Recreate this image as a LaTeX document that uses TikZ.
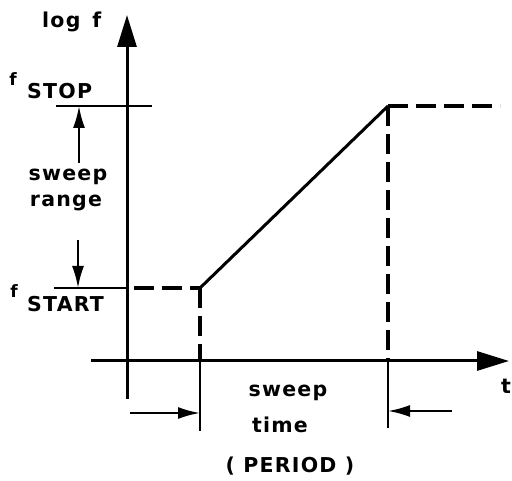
\documentclass[tikz,border=0pt]{standalone}
\usepackage{fontspec}
\setmainfont{DejaVu Sans}[LetterSpace=6]
\usetikzlibrary{arrows.meta}
\begin{document}
\begin{tikzpicture}[x=1pt,y=-1pt,
  axis/.style={line width=3pt,-{Triangle[length=32pt,width=19pt]}},
  thinline/.style={line width=2.2pt},
  solidline/.style={line width=3pt},
  dashline/.style={line width=3.4pt,dash pattern=on 20pt off 8pt},
  dimarrow/.style={line width=2.2pt,-{Latex[length=22pt,width=12pt]}},
  lbl/.style={font=\fontsize{20.5}{24}\selectfont\bfseries, inner sep=0pt},
  sub/.style={font=\fontsize{17}{19}\selectfont\bfseries, inner sep=0pt}]
\useasboundingbox (0,0) rectangle (512,481);
% points
\coordinate (ybot) at (127,399);
\coordinate (ytop) at (127,15);
\coordinate (xl) at (91,361);
\coordinate (xr) at (509,361);
\coordinate (stopL) at (56,106);
\coordinate (stopR) at (152,106);
\coordinate (startL) at (54,288);
\coordinate (startAx) at (127,288);
\coordinate (startD) at (134,288);
\coordinate (A) at (200,288);
\coordinate (B) at (388,106);
\coordinate (Bend) at (500,106);
\coordinate (Ax) at (200,361);
\coordinate (Abot) at (200,431);
\coordinate (Bx) at (388,361);
\coordinate (Bbot) at (388,428);
\coordinate (ra1) at (130,413);
\coordinate (ra2) at (200,413);
\coordinate (la1) at (452,411);
\coordinate (la2) at (388,411);
\coordinate (up1) at (79,163);
\coordinate (up2) at (79,106);
\coordinate (dn1) at (78,240);
\coordinate (dn2) at (78,288);
% axes
\draw[axis] (ybot) -- (ytop);
\draw[axis] (xl) -- (xr);
% level lines
\draw[thinline] (stopL) -- (stopR);
\draw[thinline] (startL) -- (startAx);
\draw[dashline] (startD) -- (A);
\draw[solidline] (A) -- (B);
\draw[dashline] (B) -- (Bend);
\draw[dashline] (A) -- (Ax);
\draw[dashline] (B) -- (Bx);
\draw[thinline] (Ax) -- (Abot);
\draw[thinline] (Bx) -- (Bbot);
% dimension arrows
\draw[dimarrow] (up1) -- (up2);
\draw[dimarrow] (dn1) -- (dn2);
\draw[dimarrow] (ra1) -- (ra2);
\draw[dimarrow] (la1) -- (la2);
% labels
\node[lbl, anchor=base west] (logf) at (42,28) {log\hspace{12pt}f};
\node[sub, anchor=center] (f1) at (13,79) {f};
\node[lbl, anchor=base west] (stop) at (27,99) {STOP};
\node[lbl, anchor=base] (sw1) at (68,181) {sweep};
\node[lbl, anchor=base] (rg) at (66,207) {range};
\node[sub, anchor=center] (f2) at (14,291) {f};
\node[lbl, anchor=base west] (start) at (27,312) {START};
\node[lbl, anchor=base] (sw2) at (288,397) {sweep};
\node[lbl, anchor=base] (tm) at (280,432) {time};
\node[lbl, anchor=base] (per) at (290,472) {( PERIOD )};
\node[lbl, anchor=base east] (t) at (511,393) {t};
\end{tikzpicture}
\end{document}
